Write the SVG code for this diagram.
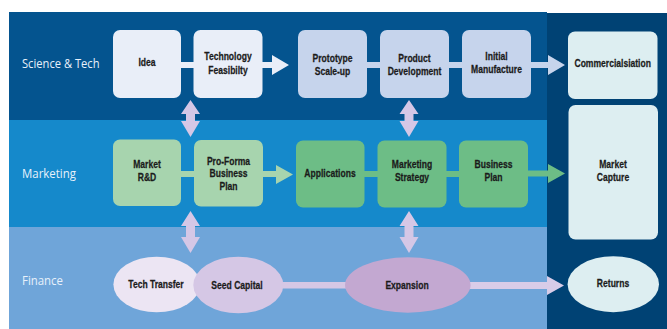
<svg xmlns="http://www.w3.org/2000/svg" width="667" height="329" viewBox="0 0 667 329">
<style>
.lane{font-family:"Open Sans","Noto Sans",sans-serif;font-size:12px;fill:#e8f1fb}
.t{font-family:"Liberation Sans",Arial,sans-serif;font-weight:bold;font-size:10.7px;fill:#1b1b1b;stroke:#1b1b1b;stroke-width:0.25;text-anchor:middle}
.n1{fill:#e9eef8}
.n2{fill:#c6d4ec}
.n3{fill:#a7d4ae}
.n4{fill:#6dbd86}
.n5{fill:#ddeef1}
.lav{fill:#d5c7e6}
</style>
<rect x="0" y="0" width="667" height="329" fill="#ffffff"/>
<g id="bands">
<rect x="9" y="12" width="538" height="108" fill="#04548f"/>
<rect x="9" y="120" width="538" height="107" fill="#1589cb"/>
<rect x="9" y="227" width="538" height="102" fill="#6fa5d9"/>
<rect x="547" y="13" width="120" height="316" fill="#004274"/>
<text class="lane" x="22" y="68" textLength="77.5" lengthAdjust="spacingAndGlyphs">Science &amp; Tech</text>
<text class="lane" x="22" y="178" textLength="54" lengthAdjust="spacingAndGlyphs">Marketing</text>
<text class="lane" x="22" y="285" textLength="41" lengthAdjust="spacingAndGlyphs">Finance</text>
</g>
<g id="connectors">
<rect x="180" y="62" width="15" height="6" class="n1"/>
<polygon class="n1" points="261,62 272,62 272,55 289,65 272,75 272,68 261,68"/>
<rect x="366" y="62" width="15" height="6" class="n2"/>
<rect x="448" y="62" width="15" height="6" class="n2"/>
<polygon class="n2" points="530,62 548,62 548,55 565,65 548,75 548,68 530,68"/>
<rect x="180" y="171" width="15" height="6" class="n3"/>
<polygon class="n3" points="262,171 276,171 276,165 293,174.5 276,184 276,177 262,177"/>
<rect x="363" y="171" width="16" height="6" class="n4"/>
<rect x="445" y="171" width="15" height="6" class="n4"/>
<polygon class="n4" points="527,170.5 548,170.5 548,164 565,173.5 548,183 548,176.5 527,176.5"/>
<polygon class="lav" points="190.5,100 200,114 195,114 195,121 200,121 190.5,137 181,121 186,121 186,114 181,114"/>
<polygon class="lav" points="409,100 418.5,114 413.5,114 413.5,121 418.5,121 409,137 399.5,121 404.5,121 404.5,114 399.5,114"/>
<polygon class="lav" points="190.5,211 200,226 195,226 195,237 200,237 190.5,253 181,237 186,237 186,226 181,226"/>
<polygon class="lav" points="409,211 418.5,226 413.5,226 413.5,237 418.5,237 409,253 399.5,237 404.5,237 404.5,226 399.5,226"/>
<rect x="280" y="282" width="70" height="6.5" fill="#d5c7e5"/>
<polygon fill="#d8cce8" points="466,282 547,282 547,276 564,285.5 547,295 547,289 466,289"/>
</g>
<g id="idea"><rect class="n1" x="113" y="30" width="68" height="68" rx="7"/><text class="t" transform="translate(147 0) scale(0.8 1)"><tspan x="0" y="66">Idea</tspan></text></g>
<g id="tech-feasibility"><rect class="n1" x="193.5" y="30" width="69" height="68" rx="7"/><text class="t" transform="translate(228 0) scale(0.8 1)"><tspan x="0" y="60">Technology</tspan><tspan x="0" y="74">Feasibilty</tspan></text></g>
<g id="prototype"><rect class="n2" x="298" y="30" width="69" height="68" rx="7"/><text class="t" transform="translate(332.5 0) scale(0.8 1)"><tspan x="0" y="62">Prototype</tspan><tspan x="0" y="75">Scale-up</tspan></text></g>
<g id="product-development"><rect class="n2" x="380" y="30" width="69" height="68" rx="7"/><text class="t" transform="translate(414.5 0) scale(0.8 1)"><tspan x="0" y="62">Product</tspan><tspan x="0" y="75">Development</tspan></text></g>
<g id="initial-manufacture"><rect class="n2" x="462" y="30" width="69" height="68" rx="7"/><text class="t" transform="translate(496.5 0) scale(0.8 1)"><tspan x="0" y="60">Initial</tspan><tspan x="0" y="73">Manufacture</tspan></text></g>
<g id="commercialisation"><rect class="n5" x="568" y="31.5" width="89.5" height="67.5" rx="7"/><text class="t" transform="translate(612.7 0) scale(0.8 1)"><tspan x="0" y="67">Commercialsiation</tspan></text></g>
<g id="market-rd"><rect class="n3" x="113" y="139.5" width="68" height="66.5" rx="7"/><text class="t" transform="translate(147 0) scale(0.8 1)"><tspan x="0" y="168">Market</tspan><tspan x="0" y="181">R&amp;D</tspan></text></g>
<g id="pro-forma"><rect class="n3" x="194" y="140" width="69" height="66.5" rx="7"/><text class="t" transform="translate(228.5 0) scale(0.8 1)"><tspan x="0" y="165">Pro-Forma</tspan><tspan x="0" y="177.5">Business</tspan><tspan x="0" y="190">Plan</tspan></text></g>
<g id="applications"><rect class="n4" x="296" y="140.5" width="68.5" height="67" rx="7"/><text class="t" transform="translate(330 0) scale(0.8 1)"><tspan x="0" y="177">Applications</tspan></text></g>
<g id="marketing-strategy"><rect class="n4" x="377.5" y="140.5" width="69" height="67" rx="7"/><text class="t" transform="translate(412 0) scale(0.8 1)"><tspan x="0" y="168">Marketing</tspan><tspan x="0" y="181">Strategy</tspan></text></g>
<g id="business-plan"><rect class="n4" x="459" y="140.5" width="69" height="67" rx="7"/><text class="t" transform="translate(493.5 0) scale(0.8 1)"><tspan x="0" y="168">Business</tspan><tspan x="0" y="181">Plan</tspan></text></g>
<g id="market-capture"><rect class="n5" x="568.5" y="105" width="89.5" height="134.5" rx="7"/><text class="t" transform="translate(613 0) scale(0.8 1)"><tspan x="0" y="168">Market</tspan><tspan x="0" y="181">Capture</tspan></text></g>
<g id="tech-transfer"><ellipse cx="156.7" cy="284.5" rx="43.3" ry="27.8" fill="#ece5f3"/><text class="t" transform="translate(156 0) scale(0.8 1)"><tspan x="0" y="288.5">Tech Transfer</tspan></text></g>
<g id="seed-capital"><ellipse cx="238.3" cy="285" rx="45" ry="28.3" fill="#d5c7e5"/><text class="t" transform="translate(237 0) scale(0.8 1)"><tspan x="0" y="289.5">Seed Capital</tspan></text></g>
<g id="expansion"><ellipse cx="407.8" cy="285" rx="62.8" ry="27.7" fill="#c3a8d1"/><text class="t" transform="translate(407 0) scale(0.8 1)"><tspan x="0" y="289.5">Expansion</tspan></text></g>
<g id="returns"><ellipse cx="613.3" cy="284.2" rx="45.7" ry="28" fill="#ddeef1"/><text class="t" transform="translate(613 0) scale(0.8 1)"><tspan x="0" y="287.5">Returns</tspan></text></g>
</svg>
